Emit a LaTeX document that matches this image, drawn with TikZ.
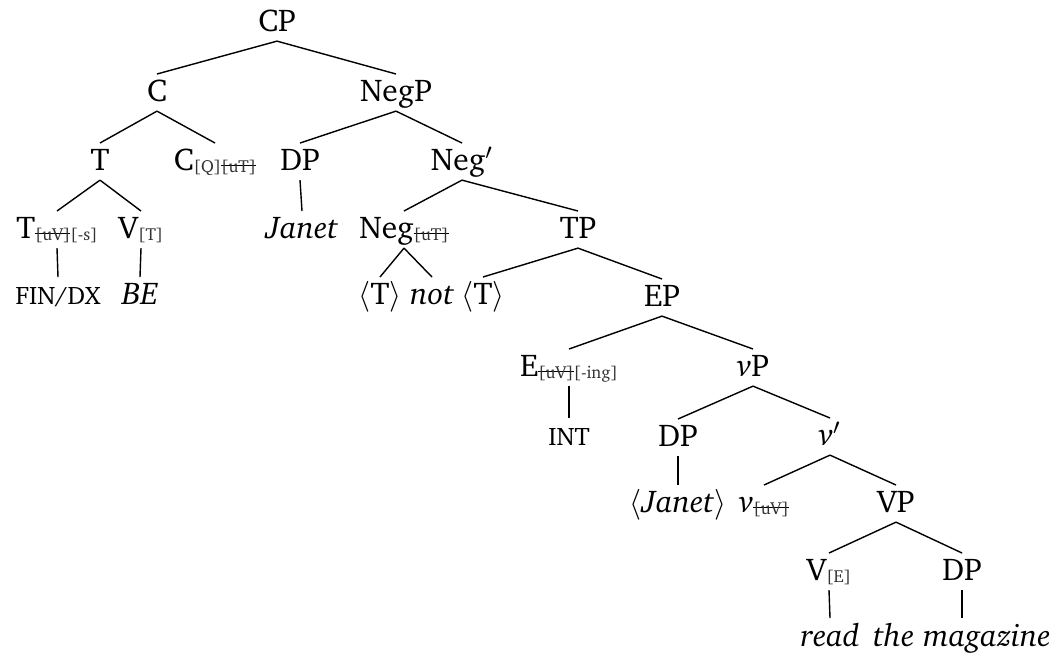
\documentclass[tikz,border=0pt]{standalone}
\usepackage[T1]{fontenc}
\usepackage{charter}
\usepackage{xcolor}
\usepackage{tikz}

% feature subscripts, struck-out features
\newcommand{\feat}[1]{\raisebox{-0.7pt}{\fontsize{6.2}{7}\selectfont\color{black!80}#1}}
\newcommand{\gone}[1]{\setbox0\hbox{#1}\rlap{\color{black}\rule[2.3pt]{\wd0}{0.7pt}}\box0}
\newcommand{\smcap}[1]{{\fontsize{9}{10}\selectfont #1}}

\begin{document}
\begin{tikzpicture}[x=0.0125cm,y=-0.0125cm,line width=0.5pt,
  lbl/.style={anchor=base,inner sep=0pt,inner ysep=3pt,text height=6.7pt,text depth=0pt,font=\fontsize{11.2}{13}\selectfont}]
  \useasboundingbox (0,0) rectangle (1054,660);
  % top
  \node[lbl] (cp) at (277,32) {CP};
  \node[lbl] (c) at (157,102) {C};
  \node[lbl] (negp) at (396,102) {NegP};
  % C side
  \node[lbl] (t) at (100,171) {T};
  \node[lbl] (cq) at (215,171) {C\feat{[Q]\gone{[uT]}}};
  \node[lbl] (tfin) at (57,239) {T\feat{\gone{[uV]}[-s]}};
  \node[lbl] (vt) at (141,239) {V\feat{[T]}};
  \node[lbl] (fin) at (58,305) {\smcap{FIN/DX}};
  \node[lbl] (be) at (140,305) {\textit{BE}};
  % NegP side
  \node[lbl] (dpa) at (300,171) {DP};
  \node[lbl] (negbar) at (462,171) {Neg$'$};
  \node[lbl] (janet) at (302,239) {\textit{Janet}};
  \node[lbl] (neg) at (404,239) {Neg\feat{\gone{[uT]}}};
  \node[lbl] (tp) at (578,239) {TP};
  \node[lbl] (tcopy) at (380,305) {$\langle$T$\rangle$};
  \node[lbl] (not) at (432,305) {\textit{not}};
  \node[lbl] (tlow) at (483,305) {$\langle$T$\rangle$};
  \node[lbl] (ep) at (662,307) {EP};
  % EP and below
  \node[lbl] (e) at (569,377) {E\feat{\gone{[uV]}[-ing]}};
  \node[lbl] (vp) at (753,377) {\textit{v}P};
  \node[lbl] (int) at (569,446) {\smcap{INT}};
  \node[lbl] (dpb) at (678,447) {DP};
  \node[lbl] (vbar) at (830,446) {\textit{v}$'$};
  \node[lbl] (janetlow) at (678,513) {$\langle$\textit{Janet}$\rangle$};
  \node[lbl] (vlow) at (764,513) {\textit{v}\feat{\gone{[uV]}}};
  \node[lbl] (bigvp) at (896,513) {VP};
  \node[lbl] (ve) at (829,581) {V\feat{[E]}};
  \node[lbl] (dpc) at (962,581) {DP};
  \node[lbl] (read) at (830,646) {\textit{read}};
  \node[lbl] (mag) at (962,646) {\textit{the magazine}};
  % branches
  \foreach \a/\b in {cp/c,cp/negp,c/t,c/cq,t/tfin,t/vt,tfin/fin,vt/be,
      negp/dpa,negp/negbar,dpa/janet,negbar/neg,negbar/tp,neg/tcopy,neg/not,
      tp/tlow,tp/ep,ep/e,ep/vp,e/int,vp/dpb,vp/vbar,dpb/janetlow,vbar/vlow,
      vbar/bigvp,bigvp/ve,bigvp/dpc,ve/read,dpc/mag}
    \draw (\a.south) -- (\b.north);
\end{tikzpicture}
\end{document}
